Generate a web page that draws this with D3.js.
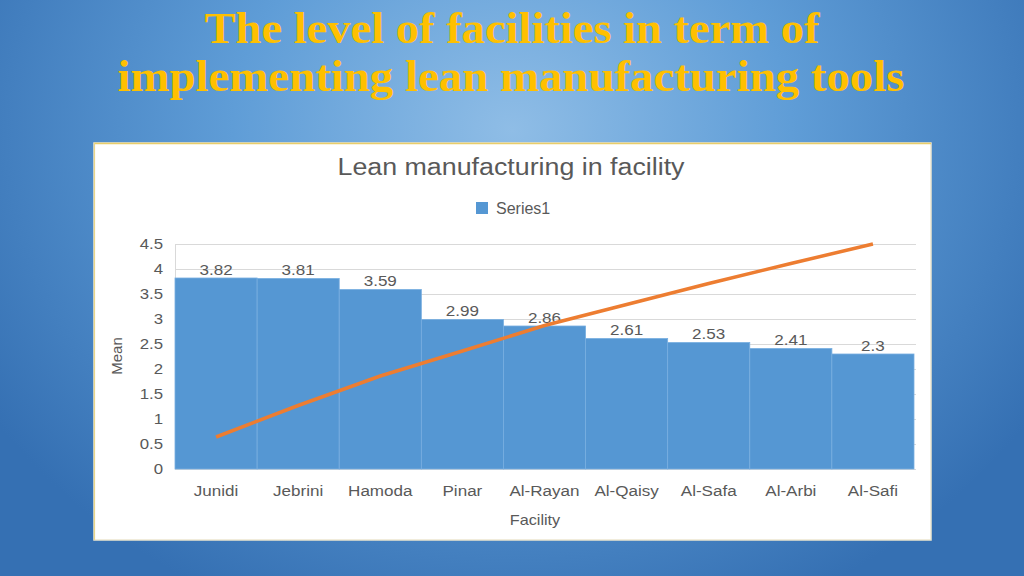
<!DOCTYPE html>
<html>
<head>
<meta charset="utf-8">
<script src="https://cdn.jsdelivr.net/npm/d3@7"></script>
<style>
html,body{margin:0;padding:0;overflow:hidden;}
svg{display:block;}
</style>
</head>
<body>
<svg id="c" width="1024" height="576"></svg>
<script>
const titleLines = ["The level of facilities in term of", "implementing lean manufacturing tools"];
const chartTitle = "Lean manufacturing in facility";
const seriesName = "Series1";
const categories = ["Junidi","Jebrini","Hamoda","Pinar","Al-Rayan","Al-Qaisy","Al-Safa","Al-Arbi","Al-Safi"];
const means = [3.82, 3.81, 3.59, 2.99, 2.86, 2.61, 2.53, 2.41, 2.3];
const lineValues = [0.64, 1.27, 1.86, 2.36, 2.87, 3.29, 3.71, 4.11, 4.5];
const yTicks = [0, 0.5, 1, 1.5, 2, 2.5, 3, 3.5, 4, 4.5];
const yLabel = "Mean";
const xLabel = "Facility";

const svg = d3.select("#c");
const defs = svg.append("defs");
const rg = defs.append("radialGradient").attr("id","bg")
  .attr("gradientUnits","userSpaceOnUse")
  .attr("cx",512).attr("cy",130).attr("r",620)
  .attr("gradientTransform","translate(512,130) scale(1,0.85) translate(-512,-130)");
rg.append("stop").attr("offset","0").attr("stop-color","#8fbde6");
rg.append("stop").attr("offset","0.45").attr("stop-color","#5f9dd7");
rg.append("stop").attr("offset","1").attr("stop-color","#3570b3");
svg.append("rect").attr("width",1024).attr("height",576).attr("fill","url(#bg)");

function stretch(sel, k) {
  sel.each(function(){
    const t = d3.select(this);
    const x0 = +t.attr("x") || 0;
    t.attr("transform", `translate(${x0},0) scale(${k},1) translate(${-x0},0)`);
  });
}

// Title
const tw = [615, 787];
const tx = [512, 511];
const ty = [43, 91];
titleLines.forEach((t,i)=>{
  svg.append("text").attr("x",tx[i]).attr("y",ty[i])
    .attr("text-anchor","middle")
    .attr("font-family","'Liberation Serif','Times New Roman',serif")
    .attr("font-weight","bold").attr("font-size",45)
    .attr("fill","#ffc000")
    .attr("textLength",tw[i]).attr("lengthAdjust","spacingAndGlyphs")
    .text(t);
});

// Panel
svg.append("rect").attr("x",94).attr("y",143).attr("width",837).attr("height",397)
  .attr("fill","#ffffff").attr("stroke","#ece6cf").attr("stroke-width",1.5);
svg.append("line").attr("x1",94).attr("x2",931).attr("y1",143.5).attr("y2",143.5).attr("stroke","#e9cd6a").attr("stroke-width",1.5);
svg.append("line").attr("x1",94.5).attr("x2",94.5).attr("y1",143).attr("y2",540).attr("stroke","#e9d68a").attr("stroke-width",1.2);

const font = "'Liberation Sans',Arial,sans-serif";
const gray = "#595959";

const x = d3.scaleBand().domain(categories).range([175, 914]).paddingInner(0).paddingOuter(0);
const y = d3.scaleLinear().domain([0, 4.5]).range([469, 244]);

// Chart title
svg.append("text").attr("x",511).attr("y",175).attr("text-anchor","middle")
  .attr("font-family",font).attr("font-size",23).attr("fill",gray)
  .attr("textLength",347).attr("lengthAdjust","spacingAndGlyphs").text(chartTitle);

// Legend
svg.append("rect").attr("x",476).attr("y",202).attr("width",12).attr("height",12).attr("fill","#5597d3");
svg.append("text").attr("x",496).attr("y",214).attr("font-family",font).attr("font-size",16).attr("fill",gray).text(seriesName);

// Gridlines
const g = svg.append("g");
g.selectAll("line.grid").data(yTicks).join("line")
  .attr("x1",175).attr("x2",916)
  .attr("y1",d=>Math.round(y(d))+0.5).attr("y2",d=>Math.round(y(d))+0.5)
  .attr("stroke","#d9d9d9").attr("stroke-width",1.2);
g.append("line").attr("x1",175.5).attr("x2",175.5).attr("y1",y(4.5)).attr("y2",y(0))
  .attr("stroke","#d9d9d9").attr("stroke-width",1);

// Y axis labels
const yAxis = d3.axisLeft(y).tickValues(yTicks).tickSize(0).tickPadding(12).tickFormat(d3.format("~g"));
const ya = svg.append("g").attr("transform","translate(175,0)").call(yAxis);
ya.select(".domain").remove();
ya.selectAll("text").attr("font-family",font).attr("font-size",15).attr("fill",gray);
stretch(ya.selectAll("text"), 1.12);

// Bars
svg.append("g").selectAll("rect").data(categories).join("rect")
  .attr("x",d=>x(d)).attr("width",x.bandwidth())
  .attr("y",(d,i)=>y(means[i])).attr("height",(d,i)=>y(0)-y(means[i]))
  .attr("fill","#5597d3").attr("stroke","#78aee0").attr("stroke-width",0.8);

// Data labels
const dl = svg.append("g").selectAll("text").data(categories).join("text")
  .attr("x",d=>x(d)+x.bandwidth()/2).attr("y",(d,i)=>y(means[i])-3)
  .attr("text-anchor","middle").attr("font-family",font).attr("font-size",15.5).attr("fill",gray)
  .text((d,i)=>means[i]);
stretch(dl, 1.1);

// Line
const line = d3.line().x((d,i)=>x(categories[i])+x.bandwidth()/2).y(d=>y(d));
svg.append("path").datum(lineValues).attr("d",line)
  .attr("fill","none").attr("stroke","#ed7d31").attr("stroke-width",3.5).attr("stroke-linecap","butt");

// X axis labels
const xAxis = d3.axisBottom(x).tickSize(0).tickPadding(16);
const xa = svg.append("g").attr("transform","translate(0,469)").call(xAxis);
xa.select(".domain").remove();
xa.selectAll("text").attr("font-family",font).attr("font-size",15.5).attr("fill",gray);
stretch(xa.selectAll("text"), 1.1);

// Axis titles
const xt = svg.append("text").attr("x",535).attr("y",525).attr("text-anchor","middle")
  .attr("font-family",font).attr("font-size",15).attr("fill",gray).text(xLabel);
stretch(xt, 1.08);
svg.append("text").attr("transform","translate(122,356) rotate(-90)").attr("text-anchor","middle")
  .attr("font-family",font).attr("font-size",15).attr("fill",gray).text(yLabel);
</script>
</body>
</html>
